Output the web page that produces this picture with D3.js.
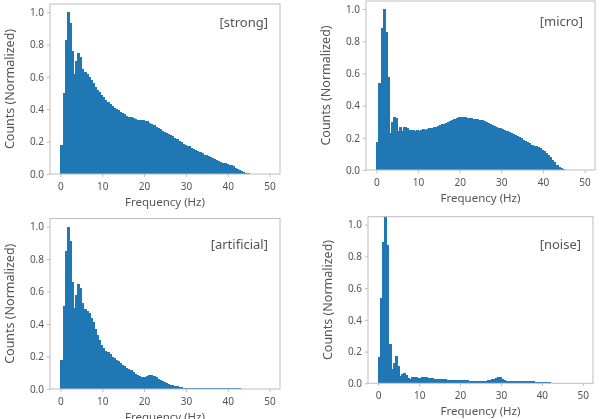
<!DOCTYPE html>
<meta charset="utf-8">
<head>
<title>Frequency histograms</title>
<script src="https://d3js.org/d3.v7.min.js"></script>
<style>
  body { margin: 0; background: #fff; }
  svg { display: block; filter: blur(0.35px); }
  text { font-family: "Noto Sans", "Open Sans", sans-serif; }
</style>
</head>
<body>
<div id="chart"></div>

<script>
  // histogram bins: 0.5 Hz wide, starting at 0 Hz
  var binWidth = 0.5;
  var xTicks = [0, 10, 20, 30, 40, 50];
  var yTicks = [0, 0.2, 0.4, 0.6, 0.8, 1.0];
  var panelNames = ["strong", "micro", "artificial", "noise"];

  var strong = [0.18,0.50,0.83,1.00,0.93,0.76,0.62,0.70,0.75,0.72,
    0.65,0.63,0.615,0.60,0.58,0.56,0.54,0.52,0.505,0.49,
    0.475,0.46,0.445,0.43,0.42,0.41,0.40,0.395,0.385,0.375,
    0.37,0.36,0.355,0.35,0.345,0.34,0.335,0.335,0.333,0.333,
    0.33,0.325,0.318,0.31,0.30,0.29,0.283,0.275,0.268,0.26,
    0.255,0.248,0.24,0.232,0.225,0.215,0.205,0.195,0.187,0.18,
    0.175,0.17,0.163,0.157,0.15,0.142,0.135,0.128,0.12,0.115,
    0.11,0.103,0.097,0.09,0.085,0.08,0.075,0.07,0.066,0.062,
    0.058,0.053,0.047,0.04,0.033,0.025,0.018,0.012,0.007,0.004,
    0.002,0.001,0.0005,0,0,0,0,0,0,0];

  var micro = [0.175,0.54,0.88,1.00,0.86,0.58,0.23,0.30,0.33,0.32,
    0.24,0.27,0.24,0.27,0.26,0.25,0.25,0.25,0.245,0.25,
    0.245,0.25,0.252,0.25,0.255,0.258,0.262,0.265,0.27,0.275,
    0.28,0.283,0.287,0.292,0.298,0.305,0.312,0.318,0.323,0.327,
    0.33,0.33,0.328,0.325,0.322,0.32,0.318,0.316,0.315,0.313,
    0.31,0.305,0.298,0.29,0.283,0.277,0.272,0.267,0.262,0.258,
    0.253,0.248,0.243,0.238,0.232,0.226,0.22,0.212,0.204,0.196,
    0.188,0.18,0.172,0.165,0.158,0.152,0.147,0.142,0.135,0.127,
    0.118,0.108,0.095,0.08,0.063,0.047,0.032,0.02,0.011,0.005,
    0.002,0.001,0,0,0,0,0,0,0,0];

  var artificial = [0.18,0.51,0.85,1.00,0.91,0.66,0.50,0.58,0.645,0.62,
    0.53,0.49,0.48,0.47,0.44,0.41,0.37,0.33,0.30,0.27,
    0.25,0.235,0.225,0.215,0.20,0.19,0.18,0.17,0.16,0.15,
    0.14,0.13,0.125,0.115,0.105,0.095,0.088,0.08,0.076,0.075,
    0.076,0.08,0.085,0.087,0.082,0.073,0.063,0.055,0.048,0.042,
    0.036,0.031,0.027,0.023,0.019,0.016,0.013,0.011,0.009,0.008,
    0.007,0.006,0.006,0.006,0.006,0.006,0.006,0.006,0.006,0.006,
    0.007,0.007,0.007,0.007,0.007,0.007,0.007,0.007,0.007,0.007,
    0.005,0.005,0.005,0.005,0.005,0.005,0.003,0.003,0.001,0,
    0,0,0,0,0,0,0,0,0,0];

  var noise = [0.165,0.54,0.89,1.06,0.87,0.25,0.09,0.13,0.17,0.11,
    0.045,0.06,0.065,0.05,0.035,0.03,0.04,0.042,0.038,0.032,
    0.035,0.04,0.04,0.037,0.035,0.033,0.032,0.03,0.028,0.027,
    0.026,0.025,0.024,0.023,0.022,0.022,0.021,0.02,0.02,0.019,
    0.019,0.018,0.018,0.018,0.017,0.017,0.016,0.016,0.016,0.016,
    0.016,0.017,0.017,0.018,0.02,0.024,0.03,0.036,0.04,0.037,
    0.028,0.02,0.017,0.016,0.015,0.015,0.015,0.014,0.014,0.014,
    0.013,0.013,0.013,0.012,0.012,0.012,0.011,0.011,0.01,0.01,
    0.009,0.008,0.007,0.006,0.005,0.004,0.003,0.002,0.001,0.0005,
    0,0,0,0,0,0,0,0,0,0];

  var series = [strong, micro, artificial, noise];

  // where each subplot sits on the page (left, right, top, bottom) + label offset
  var boxes = [
    {l: 50,  r: 280, t: 4,   b: 174, ly: 23},
    {l: 366, r: 595, t: 1,   b: 170, ly: 25},
    {l: 50,  r: 280, t: 218.5, b: 389, ly: 30},
    {l: 368, r: 593, t: 216.7, b: 383.3, ly: 32}
  ];

  var svg = d3.select("#chart")
    .append("svg")
      .attr("width", 600)
      .attr("height", 419);

  var barColor = "#1f77b4",
      spineColor = "#bdbdbd",
      textColor = "#555";

  series.forEach(function(values, i) {
    var box = boxes[i];
    var w = box.r - box.l, h = box.b - box.t;

    var g = svg.append("g")
      .attr("transform", "translate(" + box.l + "," + box.t + ")");

    var x = d3.scaleLinear().domain([-2.5, 52.5]).range([0, w]);
    var y = d3.scaleLinear().domain([0, 1.05]).range([h, 0]);

    // clip so the tallest bin stops at the frame
    g.append("clipPath").attr("id", "clip" + i)
      .append("rect").attr("width", w).attr("height", h);

    // bars (overlap by 1px so no seams show between neighbours)
    g.append("g")
      .attr("clip-path", "url(#clip" + i + ")")
      .attr("shape-rendering", "crispEdges")
      .selectAll("rect")
      .data(values)
      .enter()
      .append("rect")
        .attr("x", function(d, k) { return x(k * binWidth) })
        .attr("width", function(d, k) { return x((k + 1) * binWidth) - x(k * binWidth) + 1 })
        .attr("y", function(d) { return y(d) })
        .attr("height", function(d) { return h - y(d) })
        .style("fill", barColor);

    // x axis
    var xa = g.append("g")
      .attr("transform", "translate(0," + h + ")")
      .call(d3.axisBottom(x).tickValues(xTicks).tickSize(3).tickPadding(6));
    xa.select(".domain").remove();

    // y axis
    var ya = g.append("g")
      .call(d3.axisLeft(y).tickValues(yTicks).tickSize(3).tickPadding(3)
        .tickFormat(d3.format(".1f")));
    ya.select(".domain").remove();

    g.selectAll(".tick line").style("stroke", spineColor);
    g.selectAll(".tick text")
      .style("font-size", "10px")
      .style("fill", textColor);

    // frame
    g.append("rect")
      .attr("width", w)
      .attr("height", h)
      .style("fill", "none")
      .style("stroke", spineColor)
      .style("stroke-width", 1);

    // axis titles
    g.append("text")
      .attr("x", w / 2)
      .attr("y", h + 31.5)
      .attr("text-anchor", "middle")
      .style("font-size", "11.5px")
      .style("fill", textColor)
      .text("Frequency (Hz)");

    g.append("text")
      .attr("transform", "rotate(-90)")
      .attr("x", -h / 2)
      .attr("y", -36)
      .attr("text-anchor", "middle")
      .style("font-size", "12.5px")
      .style("fill", textColor)
      .text("Counts (Normalized)");

    // class label
    g.append("text")
      .attr("x", w - 12)
      .attr("y", box.ly)
      .attr("text-anchor", "end")
      .style("font-size", "13px")
      .style("fill", textColor)
      .text("[" + panelNames[i] + "]");
  });
</script>
</body>
